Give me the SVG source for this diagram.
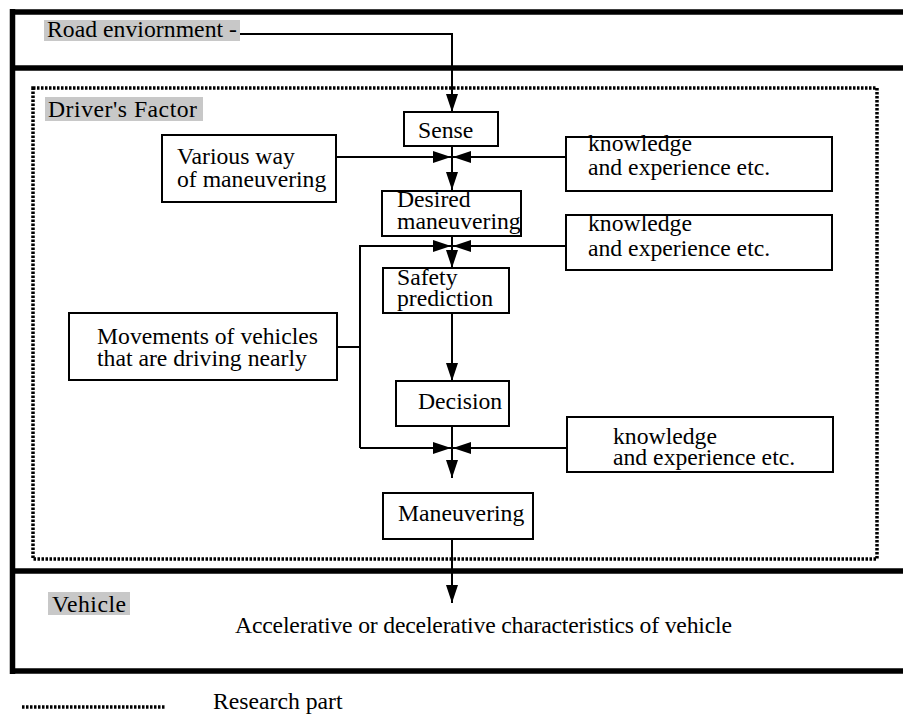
<svg xmlns="http://www.w3.org/2000/svg" width="903" height="714" viewBox="0 0 903 714">
<style>
text{font-family:"Liberation Serif","DejaVu Serif","Times New Roman",serif;font-size:23.7px;fill:#000}
.box{fill:#fff;stroke:#000;stroke-width:2}
.frame{stroke:#000;stroke-width:5.5;fill:none}
.research{fill:none;stroke:#000;stroke-width:3.5;stroke-dasharray:2.5 1.5}
.hl{fill:#c8c8c8}
.conn{fill:none;stroke:#000;stroke-width:2}
</style>
<defs>
<marker id="ah" viewBox="0 0 18 12" refX="18" refY="6" markerWidth="18" markerHeight="12" markerUnits="userSpaceOnUse" orient="auto">
<path d="M0,0 L18,6 L0,12 z" fill="#000"/>
</marker>
</defs>
<rect width="903" height="714" fill="#fff"/>

<g id="frame">
<line class="frame" x1="12.5" y1="9" x2="12.5" y2="674"/>
<line class="frame" x1="10" y1="12" x2="903" y2="12"/>
<line class="frame" x1="10" y1="68" x2="903" y2="68"/>
<line class="frame" x1="10" y1="571" x2="903" y2="571"/>
<line class="frame" x1="10" y1="671" x2="903" y2="671"/>
</g>

<g id="research-part">
<rect class="research" x="33" y="88" width="844" height="471"/>
</g>

<g id="road">
<rect class="hl" x="44" y="20" width="196" height="21"/>
<text x="47" y="37" textLength="190">Road enviornment -</text>
</g>

<g id="drivers-factor">
<rect class="hl" x="45" y="97" width="158" height="24"/>
<text x="48" y="117" textLength="149">Driver's Factor</text>
</g>

<g id="vehicle">
<rect class="hl" x="48" y="592" width="82" height="23"/>
<text x="52" y="612" textLength="74">Vehicle</text>
<text x="235" y="633" textLength="497">Accelerative or decelerative characteristics of vehicle</text>
</g>

<g id="sense">
<rect class="box" x="404" y="112" width="94" height="34"/>
<text x="418" y="138">Sense</text>
</g>

<g id="various">
<rect class="box" x="162" y="135" width="174" height="67"/>
<text x="177" y="164">Various way</text>
<text x="177" y="187">of maneuvering</text>
</g>

<g id="knowledge1">
<rect class="box" x="566" y="137" width="266" height="54"/>
<text x="588" y="151">knowledge</text>
<text x="588" y="175">and experience etc.</text>
</g>

<g id="desired">
<rect class="box" x="382" y="191" width="139" height="45"/>
<text x="397" y="207">Desired</text>
<text x="397" y="229">maneuvering</text>
</g>

<g id="knowledge2">
<rect class="box" x="566" y="215" width="266" height="55"/>
<text x="588" y="231">knowledge</text>
<text x="588" y="256">and experience etc.</text>
</g>

<g id="safety">
<rect class="box" x="383" y="268" width="126" height="45"/>
<text x="397" y="285">Safety</text>
<text x="397" y="306">prediction</text>
</g>

<g id="movements">
<rect class="box" x="69" y="313" width="268" height="67"/>
<text x="97" y="344">Movements of vehicles</text>
<text x="97" y="366">that are driving nearly</text>
</g>

<g id="decision">
<rect class="box" x="396" y="381" width="113" height="45"/>
<text x="418" y="409">Decision</text>
</g>

<g id="knowledge3">
<rect class="box" x="567" y="417" width="266" height="55"/>
<text x="613" y="444">knowledge</text>
<text x="613" y="465">and experience etc.</text>
</g>

<g id="maneuvering">
<rect class="box" x="383" y="493" width="150" height="46"/>
<text x="398" y="521">Maneuvering</text>
</g>

<g id="connectors">
<path class="conn" d="M240,34 H452 V112" marker-end="url(#ah)"/>
<path class="conn" d="M452,146 V190" marker-end="url(#ah)"/>
<path class="conn" d="M336,157 H451" marker-end="url(#ah)"/>
<path class="conn" d="M566,157 H453" marker-end="url(#ah)"/>
<path class="conn" d="M452,236 V268" marker-end="url(#ah)"/>
<path class="conn" d="M360,448 V246 H451" marker-end="url(#ah)"/>
<path class="conn" d="M360,448 H451" marker-end="url(#ah)"/>
<path class="conn" d="M337,347 H360"/>
<path class="conn" d="M566,246 H453" marker-end="url(#ah)"/>
<path class="conn" d="M452,313 V381" marker-end="url(#ah)"/>
<path class="conn" d="M452,426 V478" marker-end="url(#ah)"/>
<path class="conn" d="M567,448 H453" marker-end="url(#ah)"/>
<path class="conn" d="M452,539 V603" marker-end="url(#ah)"/>
</g>

<g id="legend">
<line class="research" x1="22" y1="707" x2="165" y2="707" stroke-width="2.5"/>
<text x="213" y="709">Research part</text>
</g>
</svg>
